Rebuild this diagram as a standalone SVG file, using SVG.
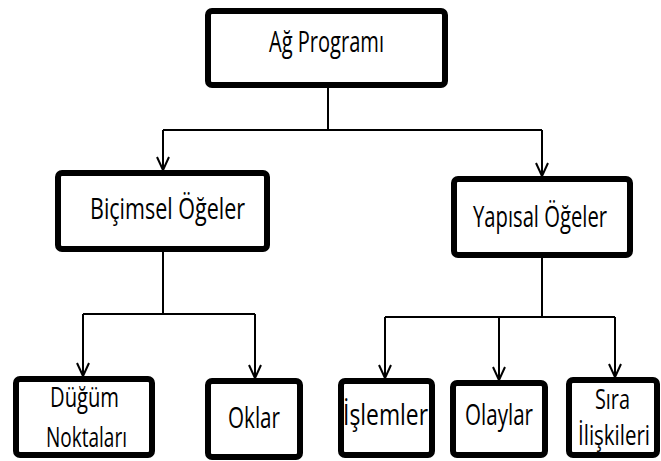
<svg xmlns="http://www.w3.org/2000/svg" width="661" height="461" viewBox="0 0 661 461">
<defs>
<style>
.box{fill:#fff;stroke:#000;stroke-width:6}
.lbl{font-family:"Open Sans","Noto Sans",sans-serif;font-size:30px;fill:#000}
.sm{font-size:27px}
.con{fill:none;stroke:#000;stroke-width:2}
</style>
<marker id="arr" markerUnits="userSpaceOnUse" markerWidth="16" markerHeight="16" viewBox="-8 -14 16 16" refX="0" refY="0" orient="auto-start-reverse" overflow="visible">
<path d="M-13,-6 L0,0 L-13,6" fill="none" stroke="#000" stroke-width="2"/>
</marker>
</defs>
<rect width="661" height="461" fill="#fff"/>
<g id="connectors">
<path class="con" d="M328,88 V130 M163,130 H542"/>
<line class="con" x1="163" y1="130" x2="163" y2="170" marker-end="url(#arr)"/>
<line class="con" x1="542" y1="130" x2="542" y2="176" marker-end="url(#arr)"/>
<path class="con" d="M163,252 V314 M83,314 H255"/>
<line class="con" x1="83" y1="314" x2="83" y2="376" marker-end="url(#arr)"/>
<line class="con" x1="255" y1="314" x2="255" y2="378" marker-end="url(#arr)"/>
<path class="con" d="M542,258 V317 M385,317 H615"/>
<line class="con" x1="385" y1="317" x2="385" y2="378" marker-end="url(#arr)"/>
<line class="con" x1="499" y1="317" x2="499" y2="380" marker-end="url(#arr)"/>
<line class="con" x1="615" y1="317" x2="615" y2="377" marker-end="url(#arr)"/>
</g>
<g id="ag-programi">
<rect class="box" x="208" y="11" width="237" height="74" rx="4"/>
<text class="lbl" x="269" y="52" textLength="115" lengthAdjust="spacingAndGlyphs">Ağ Programı</text>
</g>
<g id="bicimsel-ogeler">
<rect class="box" x="58" y="173" width="209" height="76" rx="4"/>
<text class="lbl" x="90" y="219" textLength="155" lengthAdjust="spacingAndGlyphs">Biçimsel Öğeler</text>
</g>
<g id="yapisal-ogeler">
<rect class="box" x="454" y="179" width="176" height="76" rx="4"/>
<text class="lbl" x="473" y="227" textLength="134" lengthAdjust="spacingAndGlyphs">Yapısal Öğeler</text>
</g>
<g id="dugum-noktalari">
<rect class="box" x="16" y="379" width="136" height="76" rx="4"/>
<text class="lbl sm" x="50" y="407" textLength="69" lengthAdjust="spacingAndGlyphs">Düğüm</text>
<text class="lbl sm" x="46" y="447" textLength="81" lengthAdjust="spacingAndGlyphs">Noktaları</text>
</g>
<g id="oklar">
<rect class="box" x="208" y="381" width="92" height="76" rx="4"/>
<text class="lbl" x="228" y="428" textLength="52" lengthAdjust="spacingAndGlyphs">Oklar</text>
</g>
<g id="islemler">
<rect class="box" x="341" y="381" width="91" height="74" rx="4"/>
<text class="lbl" x="343" y="425" textLength="85" lengthAdjust="spacingAndGlyphs">İşlemler</text>
</g>
<g id="olaylar">
<rect class="box" x="453" y="383" width="92" height="72" rx="4"/>
<text class="lbl" x="465" y="425" textLength="68" lengthAdjust="spacingAndGlyphs">Olaylar</text>
</g>
<g id="sira-iliskileri">
<rect class="box" x="569" y="380" width="88" height="75" rx="4"/>
<text class="lbl sm" x="595" y="409" textLength="35" lengthAdjust="spacingAndGlyphs">Sıra</text>
<text class="lbl sm" x="578" y="445" textLength="72" lengthAdjust="spacingAndGlyphs">İlişkileri</text>
</g>
</svg>
